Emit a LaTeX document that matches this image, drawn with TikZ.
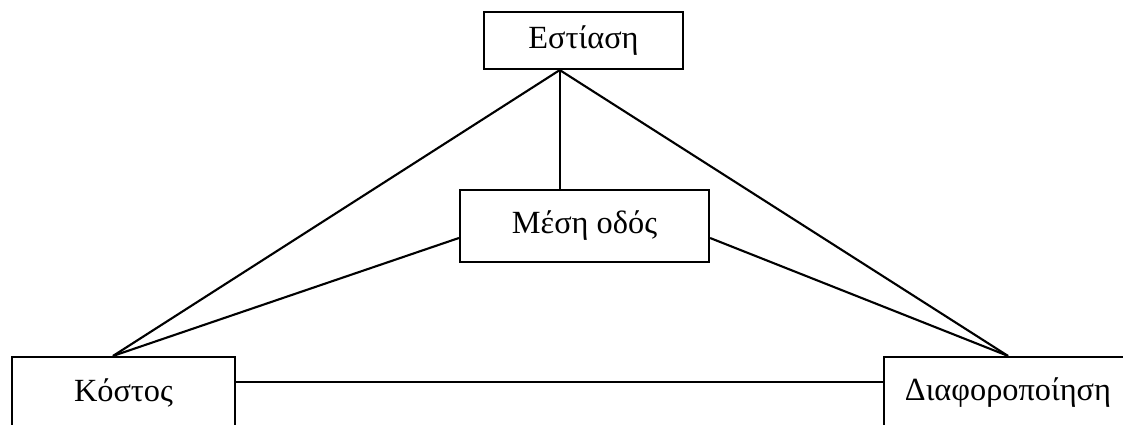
\documentclass[tikz,border=0pt]{standalone}
\usepackage{fontspec}
\setmainfont{Liberation Serif}
\usepackage{tikz}
\usetikzlibrary{positioning,calc}
\definecolor{ln}{HTML}{000000}
\tikzset{
  blk/.style={draw=ln, line width=1.5pt, fill=white, inner sep=0pt,
    minimum height=1.8cm, font=\fontsize{23}{27}\selectfont},
  lnk/.style={draw=ln, line width=1.5pt}
}

\begin{document}
\begin{tikzpicture}[x=0.025cm, y=-0.025cm]
  \useasboundingbox (0,0) rectangle (1123,425);
  \clip (0,0) rectangle (1123,425);
  % strategy boxes
  \node[blk, minimum width=4.975cm, minimum height=1.425cm] (est) at (583.5,40.5) {Εστίαση};
  \node[blk, minimum width=6.225cm] (mid) at (584.5,226) {Μέση οδός};
  \node[blk, minimum width=5.575cm] (kos) at (123.5,393) {Κόστος};
  \node[blk, minimum width=6.2cm] (diaf) at (1008,393) {Διαφοροποίηση};
  % links
  \coordinate (apex) at ($(est.south west)!0.382!(est.south east)$);
  \coordinate (kost) at ($(kos.north)+(-10.5,0)$);
  \draw[lnk] (apex) -- (kost);
  \draw[lnk] (apex) -- (diaf.north);
  \draw[lnk] (apex) -- (apex |- mid.north);
  \draw[lnk] ($(mid.west)+(0,12)$) -- (kost);
  \draw[lnk] ($(mid.east)+(0,12)$) -- (diaf.north);
  \draw[lnk] ($(kos.east)+(0,-11)$) -- ($(diaf.west)+(0,-11)$);
\end{tikzpicture}
\end{document}
